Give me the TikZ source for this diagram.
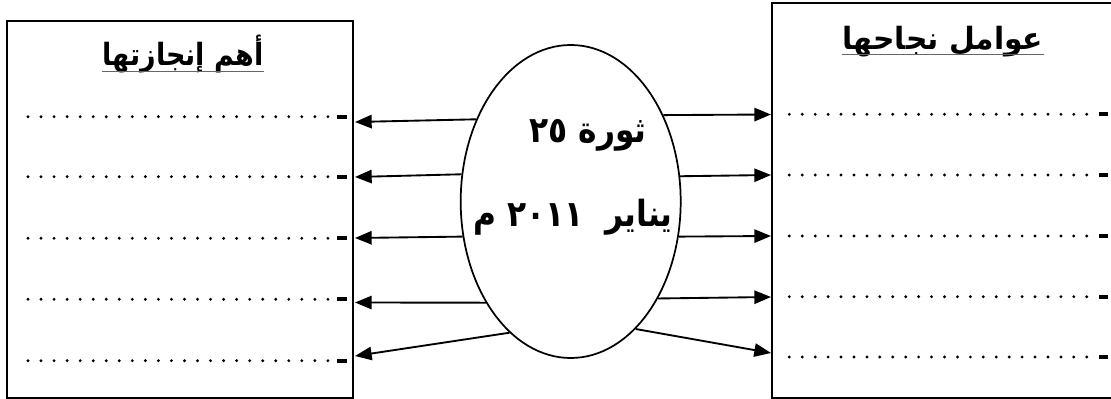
\documentclass[tikz,border=0pt]{standalone}
\usepackage{fontspec}
\usetikzlibrary{shapes.geometric,arrows.meta}
\TeXXeTstate=1
\newfontfamily\arabicfont[Script=Arabic]{DejaVu Sans}
\begin{document}
\begin{tikzpicture}[x=0.75pt,y=-0.75pt,
  box/.style={draw, line width=1.8pt, rectangle, inner sep=0pt},
  oval/.style={draw, line width=1.3pt, ellipse, inner sep=0pt, minimum width=165pt, minimum height=234.75pt},
  title/.style={inner sep=0pt, anchor=base, font=\arabicfont\bfseries\fontsize{23}{27}\selectfont},
  big/.style={inner sep=0pt, anchor=base, font=\arabicfont\bfseries\fontsize{27}{32}\selectfont},
  uline/.style={draw=black!60, line width=0.7pt},
  dots/.style={line width=2.4pt, line cap=round, dash pattern=on 0pt off 9.78pt},
  dotsr/.style={line width=2.4pt, line cap=round, dash pattern=on 0pt off 9.70pt},
  endbar/.style={line width=3pt},
  arr/.style={line width=1.4pt, -{Triangle[length=12.5pt,width=10pt]}}]
\useasboundingbox (0,0) rectangle (1111,399);
% boxes
\node[box, minimum width=259.5pt, minimum height=282.75pt] (LB) at (180,209.5) {};
\node[box, minimum width=257.25pt, minimum height=296.25pt] (RB) at (943.5,200.5) {};
% titles
\node[title] (LT) at (183,66) {\scalebox{0.88}[1]{\beginR أهم إنجازتها\endR}};
\node[title] (RT) at (943,50) {\scalebox{0.97}[1]{\beginR عوامل نجاحها\endR}};
\draw[uline] ([yshift=-4pt]LT.base west) -- ([yshift=-4pt]LT.base east);
\draw[uline] ([yshift=-3pt]RT.base west) -- ([yshift=-3pt]RT.base east);
% dotted lines
\foreach \y in {116.7,176.7,238.3,299.3,360.7}{
  \draw[dots] (28,\y) -- (331,\y);
  \draw[endbar] (337,\y) -- (346.5,\y);
}
\foreach \y in {114.3,175,236,296.7,357}{
  \draw[dotsr] (789.3,\y) -- (1090,\y);
  \draw[endbar] (1099,\y) -- (1108,\y);
}
% ellipse
\node[oval] (E) at (570.7,201.5) {};
\node[big] (T1) at (588,143) {\scalebox{0.87}[1]{\beginR ثورة \beginL٢٥\endL\endR}};
\node[big] (T2) at (573,227) {\scalebox{0.87}[1]{\beginR يناير \ \beginL٢٠١١\endL{} م\endR}};
% targets
\coordinate (l1) at (355,122);
\coordinate (l2) at (355,177);
\coordinate (l3) at (355,238);
\coordinate (l4) at (355,302.5);
\coordinate (l5) at (355,356);
\coordinate (r1) at (771,114.5);
\coordinate (r2) at (771,175);
\coordinate (r3) at (771,236);
\coordinate (r4) at (771,297);
\coordinate (r5) at (771,353);
\draw[arr] (E.139) -- (l1);
\draw[arr] (E.166.6) -- (l2);
\draw[arr] (E.198.3) -- (l3);
\draw[arr] (E.230.3) -- (l4);
\draw[arr] (E.245.1) -- (l5);
\draw[arr] (E.43.3) -- (r1);
\draw[arr] (E.13.7) -- (r2);
\draw[arr] (E.342.2) -- (r3);
\draw[arr] (E.312.4) -- (r4);
\draw[arr] (E.297.6) -- (r5);
\end{tikzpicture}
\end{document}
